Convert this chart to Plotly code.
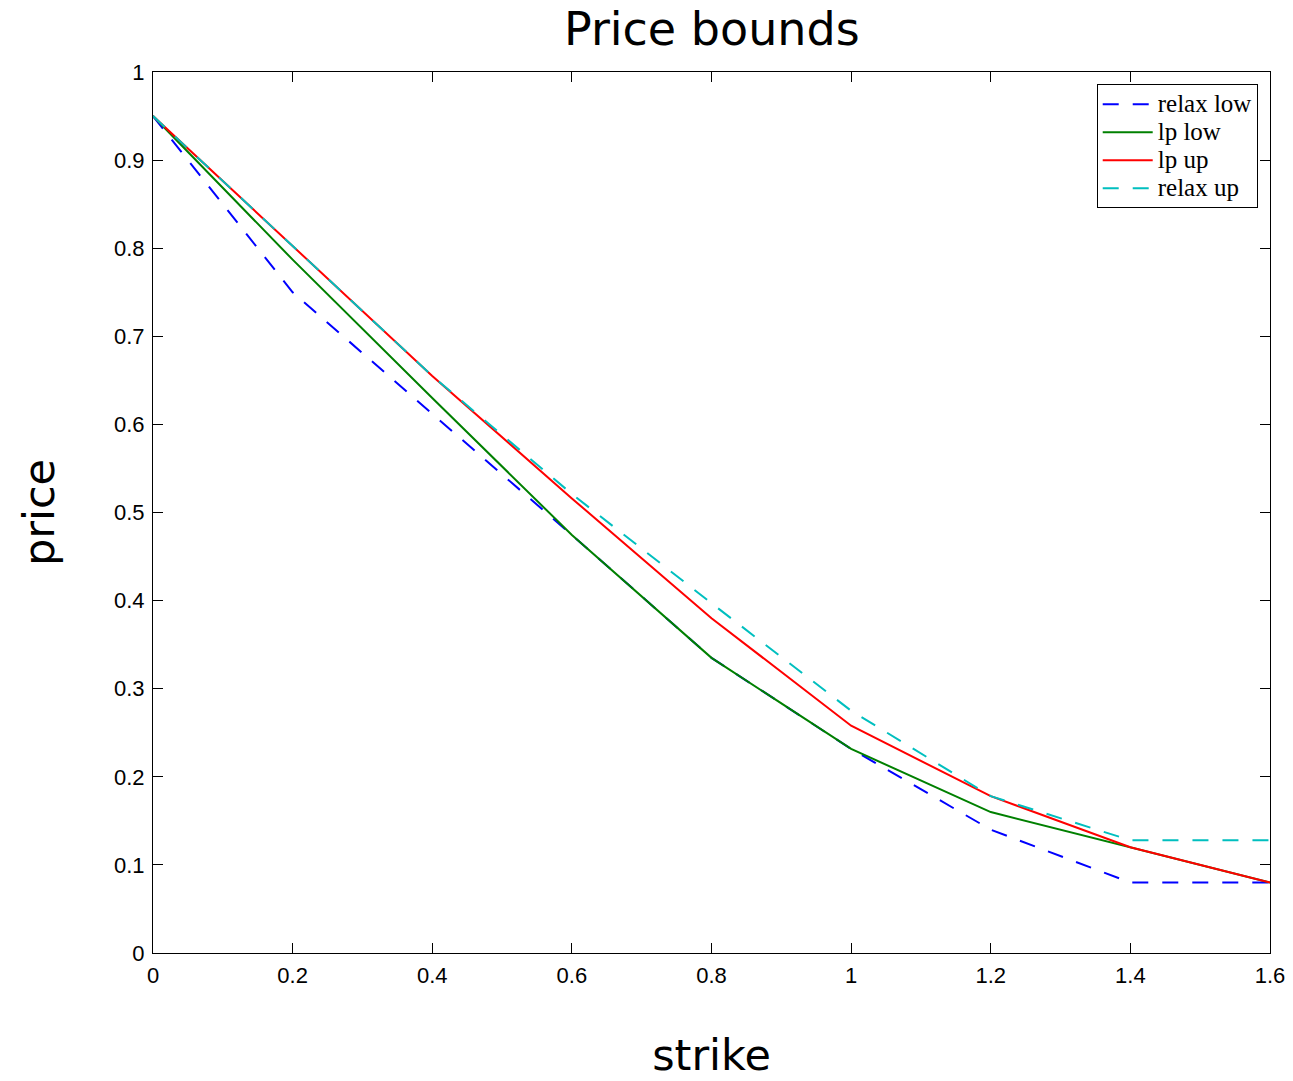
import plotly.graph_objects as go

strike = [0.0, 0.2, 0.4, 0.6, 0.8, 1.0, 1.2, 1.4, 1.6]
relax_low = [0.95, 0.75, 0.612, 0.4745, 0.335, 0.2316, 0.14, 0.08, 0.08]
lp_low = [0.95, 0.787, 0.630, 0.4745, 0.335, 0.2316, 0.160, 0.120, 0.08]
lp_up = [0.95, 0.803, 0.655, 0.516, 0.380, 0.258, 0.178, 0.120, 0.08]
relax_up = [0.95, 0.803, 0.655, 0.521, 0.397, 0.275, 0.178, 0.128, 0.128]

xticks = [0, 0.2, 0.4, 0.6, 0.8, 1, 1.2, 1.4, 1.6]
xticklabels = ["0", "0.2", "0.4", "0.6", "0.8", "1", "1.2", "1.4", "1.6"]
yticks = [0, 0.1, 0.2, 0.3, 0.4, 0.5, 0.6, 0.7, 0.8, 0.9, 1]
yticklabels = ["0", "0.1", "0.2", "0.3", "0.4", "0.5", "0.6", "0.7", "0.8", "0.9", "1"]

series_names = ["relax low", "lp low", "lp up", "relax up"]

DASH = "16px,14px"


def legend_label(name):
    return "<span style='font-size:25px'>" + name + "</span>"


fig = go.Figure()
fig.add_trace(go.Scatter(x=strike, y=relax_low, mode="lines", name=legend_label(series_names[0]),
                         line=dict(color="#0000ff", width=2, dash=DASH)))
fig.add_trace(go.Scatter(x=strike, y=lp_low, mode="lines", name=legend_label(series_names[1]),
                         line=dict(color="#008000", width=2)))
fig.add_trace(go.Scatter(x=strike, y=lp_up, mode="lines", name=legend_label(series_names[2]),
                         line=dict(color="#ff0000", width=2)))
fig.add_trace(go.Scatter(x=strike, y=relax_up, mode="lines", name=legend_label(series_names[3]),
                         line=dict(color="#00bfbf", width=2, dash=DASH)))

axis_common = dict(showline=True, linecolor="black", linewidth=1, mirror="ticks",
                   ticks="inside", ticklen=10, tickcolor="black", showgrid=False,
                   zeroline=False, ticklabelstandoff=3, automargin=False,
                   tickfont=dict(family="Liberation Sans, Arial", size=22, color="black"))

title_font = dict(family="DejaVu Sans", size=43, color="black")

fig.update_layout(
    width=1293, height=1081,
    margin=dict(l=153, r=23, t=72, b=128),
    paper_bgcolor="white", plot_bgcolor="white",
    title=dict(text="Price bounds", x=0.5505, xanchor="center", yref="container",
               y=0.988, yanchor="top", automargin=False,
               font=dict(family="DejaVu Sans", size=46, color="black")),
    xaxis=dict(range=[0, 1.6], tickvals=xticks, ticktext=xticklabels,
               title=dict(text="strike", font=title_font, standoff=52),
               **axis_common),
    yaxis=dict(range=[0, 1], tickvals=yticks, ticktext=yticklabels,
               title=dict(text="price", font=title_font, standoff=45),
               **axis_common),
    legend=dict(x=0.989, y=0.986, xanchor="right", yanchor="top",
                bgcolor="white", bordercolor="black", borderwidth=1,
                font=dict(family="Liberation Serif, Times New Roman", size=19.2, color="black"),
                tracegroupgap=0, itemwidth=50),
    showlegend=True,
)

fig.write_html("out.html")
